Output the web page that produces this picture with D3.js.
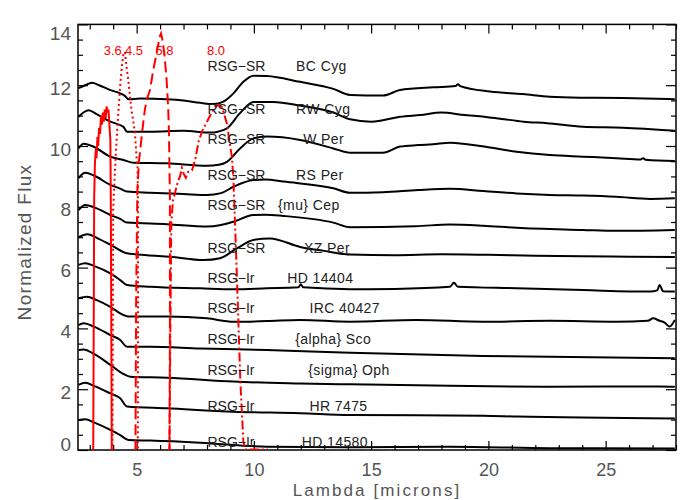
<!DOCTYPE html>
<html><head><meta charset="utf-8">
<script src="https://cdn.jsdelivr.net/npm/d3@7/dist/d3.min.js"></script>
<style>body{margin:0;background:#fff}svg{display:block}text{font-family:Arial,"Liberation Sans",sans-serif}</style>
</head><body><svg id="c" width="700" height="500"></svg>
<script>
// ---------- data ----------
const stars   = ["BC Cyg","RW Cyg","W Per","RS Per","{mu} Cep","XZ Per","HD 14404","IRC 40427","{alpha} Sco","{sigma} Oph","HR 7475","HD 14580"];
const classes = ["RSG\u2212SR","RSG\u2212SR","RSG\u2212SR","RSG\u2212SR","RSG\u2212SR","RSG\u2212SR","RSG\u2212Ir","RSG\u2212Ir","RSG\u2212Ir","RSG\u2212Ir","RSG\u2212Ir","RSG\u2212Ir"];
const labelFlux = [12.48,11.04,10.06,8.88,7.89,6.47,5.5,4.5,3.48,2.47,1.28,0.09];
const nameLambda = [11.8,11.8,12.1,11.8,11.03,12.14,11.42,12.37,11.76,12.32,12.37,12.04];
const classLambda = 8.02;

const specBCCyg = [[2.52,11.9],[2.8,12.0],[3.1,12.08],[3.4,12.0],[3.88,11.84],[4.3,11.73],[4.5,11.65],[4.65,11.54],[5.15,11.56],[6.29,11.54],[7.0,11.5],[7.71,11.42],[8.28,11.38],[8.7,11.46],[9.13,11.73],[9.55,12.11],[9.98,12.31],[10.55,12.3],[11.97,12.11],[13.39,11.88],[14.1,11.68],[15.5,11.66],[16.23,11.84],[17.64,11.93],[18.6,11.97],[18.7,12.03],[18.8,11.97],[20.07,11.79],[21.47,11.71],[22.62,11.62],[24.03,11.59],[25.73,11.58],[27.95,11.54]];
const specRWCyg = [[2.52,10.96],[2.95,11.18],[3.3,11.05],[3.88,10.8],[4.44,10.63],[4.59,10.47],[5.58,10.47],[7.0,10.5],[8.14,10.44],[8.5,10.48],[8.85,10.58],[9.41,11.08],[9.98,11.45],[10.83,11.45],[11.97,11.33],[13.39,11.1],[14.1,10.88],[15.0,10.8],[15.5,10.85],[16.23,10.96],[17.1,11.02],[18.0,11.1],[19.0,11.02],[19.5,10.99],[20.5,10.9],[21.5,10.8],[22.5,10.75],[24.03,10.63],[25.73,10.6],[27.95,10.5]];
const specWPer = [[2.52,9.92],[2.74,10.07],[3.1,10.0],[3.88,9.65],[4.44,9.54],[4.87,9.45],[6.29,9.43],[8.0,9.35],[8.5,9.38],[8.85,9.48],[9.41,9.92],[9.98,10.25],[10.55,10.31],[11.97,10.2],[13.39,9.92],[14.1,9.78],[15.5,9.78],[16.23,9.98],[17.0,10.03],[17.64,10.06],[18.36,10.11],[18.7,10.09],[19.5,10.02],[20.07,9.95],[21.2,9.81],[22.62,9.7],[24.03,9.65],[25.46,9.6],[26.5,9.56],[26.6,9.6],[26.7,9.55],[27.95,9.51]];
const specRSPer = [[2.52,8.94],[2.81,9.12],[3.2,9.02],[3.88,8.72],[4.3,8.6],[4.59,8.5],[5.58,8.46],[7.0,8.42],[8.0,8.39],[8.6,8.45],[9.13,8.66],[9.98,8.88],[10.5,8.9],[11.26,8.83],[13.39,8.61],[14.1,8.46],[15.5,8.48],[17.0,8.55],[18.36,8.59],[19.78,8.52],[21.2,8.44],[22.62,8.39],[24.03,8.37],[25.46,8.33],[26.9,8.26],[27.95,8.28]];
const specMuCep = [[2.52,7.89],[2.81,8.06],[3.2,7.98],[3.88,7.73],[4.3,7.6],[4.59,7.48],[6.29,7.43],[8.0,7.35],[8.6,7.4],[9.13,7.51],[9.98,7.73],[10.5,7.74],[11.26,7.7],[13.39,7.48],[14.1,7.33],[16.9,7.36],[18.36,7.42],[19.78,7.38],[21.2,7.31],[24.03,7.24],[25.46,7.21],[27.95,7.24]];
const specXZPer = [[2.52,7.0],[2.9,7.1],[3.3,6.98],[4.02,6.69],[4.59,6.47],[5.44,6.41],[6.43,6.36],[7.85,6.25],[8.56,6.31],[9.27,6.63],[9.98,6.91],[10.69,6.96],[11.97,6.68],[13.0,6.55],[14.1,6.43],[16.0,6.41],[18.0,6.44],[20.0,6.42],[22.0,6.39],[24.0,6.37],[26.0,6.36],[27.95,6.35]];
const specHD14404 = [[2.52,6.09],[2.81,6.14],[3.2,6.05],[3.88,5.81],[4.3,5.59],[4.59,5.43],[5.58,5.37],[7.71,5.32],[9.13,5.29],[10.55,5.32],[11.9,5.35],[12.0,5.45],[12.1,5.35],[14.1,5.29],[16.0,5.3],[18.36,5.37],[18.53,5.5],[18.7,5.37],[21.2,5.32],[24.04,5.26],[26.9,5.21],[27.2,5.25],[27.3,5.43],[27.45,5.22],[27.95,5.21]];
const specIRC40427 = [[2.52,4.99],[2.88,5.04],[3.3,4.93],[3.88,4.71],[4.44,4.44],[4.65,4.39],[6.29,4.39],[8.0,4.33],[9.13,4.22],[10.55,4.24],[11.97,4.28],[14.1,4.22],[16.94,4.28],[19.78,4.22],[22.62,4.25],[25.46,4.22],[26.8,4.25],[27.02,4.33],[27.3,4.25],[27.5,4.2],[27.73,4.06],[27.95,4.28]];
const specAlphaSco = [[2.52,4.11],[2.74,4.17],[3.2,4.05],[3.88,3.78],[4.3,3.62],[4.59,3.4],[5.58,3.4],[7.71,3.34],[10.55,3.29],[14.1,3.2],[19.78,3.09],[27.95,3.02]];
const specSigmaOph = [[2.52,3.29],[2.74,3.31],[3.2,3.15],[3.88,2.8],[4.44,2.5],[4.73,2.41],[6.29,2.38],[9.13,2.25],[11.97,2.19],[14.1,2.16],[18.36,2.11],[22.62,2.08],[27.3,2.09],[27.95,2.08]];
const specHR7475 = [[2.52,2.14],[2.81,2.21],[3.2,2.1],[3.88,1.86],[4.3,1.7],[4.59,1.43],[6.29,1.37],[9.13,1.26],[11.97,1.21],[14.1,1.15],[19.78,1.13],[21.2,1.1],[27.95,1.04]];
const specHD14580 = [[2.52,0.99],[2.81,1.01],[3.2,0.9],[3.88,0.66],[4.3,0.49],[4.65,0.33],[5.58,0.31],[7.71,0.24],[10.55,0.11],[14.1,0.09],[18.36,0.11],[22.62,0.06],[27.95,0.05]];
const spectra = [specBCCyg,specRWCyg,specWPer,specRSPer,specMuCep,specXZPer,specHD14404,specIRC40427,specAlphaSco,specSigmaOph,specHR7475,specHD14580];

const bandNames = ["3.6","4.5","5.8","8.0"];
const bandLambda = [3.6,4.5,5.8,8.0];
const bandLabelFlux = 13.0;
const filter36 = [[3.08,0],[3.15,0.02],[3.17,4],[3.19,8.3],[3.22,9.4],[3.26,9.9],[3.29,9.6],[3.33,10.3],[3.36,10.0],[3.4,10.6],[3.44,10.4],[3.48,11.0],[3.52,10.7],[3.56,11.1],[3.6,10.8],[3.64,11.2],[3.68,10.9],[3.72,11.3],[3.76,11.1],[3.8,11.2],[3.84,10.7],[3.88,10.2],[3.9,8],[3.92,4],[3.94,0.02],[4.0,0]];
const filter45 = [[3.92,0],[3.97,0.02],[3.99,5],[4.0,7.9],[4.07,9.1],[4.14,10.1],[4.22,11.1],[4.3,12.0],[4.37,12.6],[4.43,13.0],[4.5,13.1],[4.57,12.6],[4.64,12.2],[4.72,11.6],[4.78,11.2],[4.86,10.8],[4.93,10.4],[5.0,9.6],[5.04,9.3],[5.06,8.0],[5.06,4],[5.05,0.02],[5.12,0]];
const filter58 = [[4.88,0],[4.95,0.02],[4.98,5],[5.03,8.5],[5.1,9.5],[5.2,10.2],[5.28,10.75],[5.35,11.18],[5.42,11.5],[5.57,11.84],[5.71,12.5],[5.85,13.05],[5.99,13.6],[6.04,13.7],[6.1,13.5],[6.18,13.05],[6.27,12.28],[6.35,11.18],[6.38,10.4],[6.42,8.2],[6.42,4],[6.4,0.02],[6.46,0]];
const filter80 = [[6.32,0],[6.4,0.02],[6.44,4],[6.48,7.5],[6.55,8.2],[6.65,8.5],[6.75,8.8],[6.85,9.0],[6.93,9.28],[7.0,9.1],[7.1,8.95],[7.2,9.15],[7.36,9.2],[7.5,9.55],[7.64,10.14],[7.8,10.5],[8.0,10.8],[8.2,11.1],[8.35,11.29],[8.5,11.35],[8.63,11.29],[8.75,11.0],[8.85,10.74],[8.95,10.2],[9.06,9.65],[9.13,8.9],[9.28,5.6],[9.42,2.3],[9.55,0.3],[9.62,0.02],[10.6,0.02]];
const filters = [filter36,filter45,filter58,filter80];

const xMajor = [5,10,15,20,25];
const yMajor = [0,2,4,6,8,10,12,14];

// ---------- chart ----------
const svg = d3.select("#c");
const L=78, R=676, T=24.4, B=450;
const x = d3.scaleLinear().domain([2.5,28]).range([L,R]);
const y = d3.scaleLinear().domain([0,14]).range([B,T]);
svg.append("rect").attr("width",700).attr("height",500).attr("fill","#fff");
svg.append("defs").append("clipPath").attr("id","plot")
  .append("rect").attr("x",L).attr("y",T).attr("width",R-L).attr("height",B-T);

const tickCol="#000", labCol="#555";
function axisGroup(axis, tx, ty){
  const g = svg.append("g").attr("transform",`translate(${tx},${ty})`).call(axis);
  g.select(".domain").remove();
  g.selectAll("line").attr("stroke",tickCol).attr("stroke-width",1.2);
  return g;
}
const xMinor = d3.range(3,29,1).filter(v=>v%5!==0);
const yMinor = d3.range(0.5,14,0.5).filter(v=>v%2!==0);
// bottom
const gb = axisGroup(d3.axisBottom(x).tickValues(xMajor).tickSize(-9).tickFormat(d3.format("d")),0,B);
gb.selectAll("text").attr("y",26).attr("dy",0).attr("font-size",18).attr("fill",labCol).attr("font-family","Arial, Liberation Sans, sans-serif");
axisGroup(d3.axisBottom(x).tickValues(xMinor).tickSize(-5).tickFormat(""),0,B);
// top
axisGroup(d3.axisTop(x).tickValues(xMajor).tickSize(-9).tickFormat(""),0,T);
axisGroup(d3.axisTop(x).tickValues(xMinor).tickSize(-5).tickFormat(""),0,T);
// left
const gl = axisGroup(d3.axisLeft(y).tickValues(yMajor).tickSize(-10).tickFormat(d3.format("d")),L,0);
gl.selectAll("text").attr("x",-7).attr("dy",0).attr("y",d=> d===0 ? 0 : (d===14 ? 15 : 9.0))
  .attr("font-size",19).attr("fill",labCol).attr("font-family","Arial, Liberation Sans, sans-serif");
axisGroup(d3.axisLeft(y).tickValues(yMinor).tickSize(-5).tickFormat(""),L,0);
// right
axisGroup(d3.axisRight(y).tickValues(yMajor).tickSize(-10).tickFormat(""),R,0);
axisGroup(d3.axisRight(y).tickValues(yMinor).tickSize(-5).tickFormat(""),R,0);

// frame
svg.append("rect").attr("x",L).attr("y",T).attr("width",R-L).attr("height",B-T)
  .attr("fill","none").attr("stroke","#000").attr("stroke-width",1.5);

// titles
svg.append("text").attr("transform",`translate(31,242) rotate(-90)`).attr("text-anchor","middle")
  .attr("font-size",19).attr("letter-spacing",1.3).attr("fill",labCol).text("Normalized Flux");
svg.append("text").attr("x",(L+R)/2).attr("y",496).attr("text-anchor","middle")
  .attr("font-size",17).attr("letter-spacing",2.1).attr("fill",labCol).text("Lambda [microns]");

// spectra
const plot = svg.append("g").attr("clip-path","url(#plot)");
const specLine = d3.line().x(d=>x(d[0])).y(d=>y(d[1])).curve(d3.curveMonotoneX);
plot.selectAll("path.spec").data(spectra).join("path").attr("class","spec")
  .attr("d",specLine).attr("fill","none").attr("stroke","#000").attr("stroke-width",2).attr("stroke-linejoin","round");

// labels
const lab = svg.append("g");
stars.forEach((s,i)=>{
  lab.append("text").attr("x",x(classLambda)).attr("y",y(labelFlux[i])).attr("font-size",14).attr("fill","#222").text(classes[i]);
  lab.append("text").attr("x",x(nameLambda[i])).attr("y",y(labelFlux[i])).attr("font-size",14).attr("letter-spacing",0.4).attr("fill","#222").text(s);
});

// filter curves
const dash = ["none","2,3","11,5","9,3,2,3"];
const fLine = d3.line().x(d=>x(d[0])).y(d=>y(d[1]));
plot.selectAll("path.filt").data(filters).join("path").attr("class","filt")
  .attr("d",fLine).attr("fill","none").attr("stroke","#ff0000").attr("stroke-width",2)
  .attr("stroke-dasharray",(d,i)=>dash[i]);
bandNames.forEach((b,i)=>{
  svg.append("text").attr("x",x(bandLambda[i])).attr("y",y(bandLabelFlux)).attr("font-size",13)
    .attr("fill","#ff0000").text(b);
});
</script></body></html>
